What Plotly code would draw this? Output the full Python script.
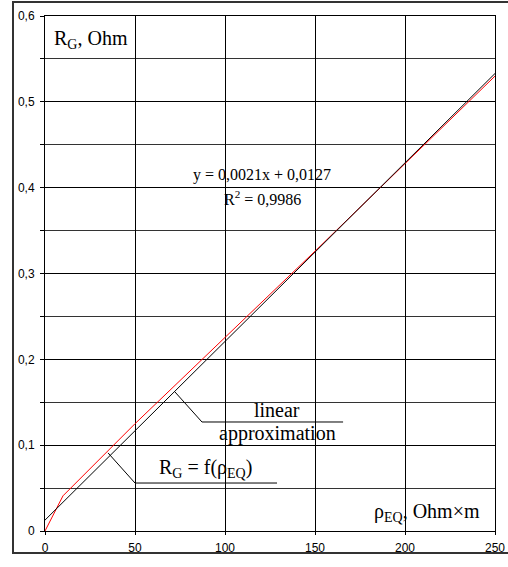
import plotly.graph_objects as go

# data
rho_eq = [0, 10, 50, 100, 150, 200, 250]
r_g = [0, 0.041, 0.125, 0.225, 0.326, 0.428, 0.530]

trend_x = [0, 250]
trend_y = [0.0127, 0.533]

y_tickvals = [0, 0.1, 0.2, 0.3, 0.4, 0.5, 0.6]
y_ticktext = ["0", "0,1", "0,2", "0,3", "0,4", "0,5", "0,6"]
x_tickvals = [0, 50, 100, 150, 200, 250]
x_ticktext = ["0", "50", "100", "150", "200", "250"]

W, H = 508, 567
ML, MR, MT, MB = 45, 13, 16, 36
PW, PH = W - ML - MR, H - MT - MB

def px(x):
    return (x - ML) / PW

def py(y):
    return (H - MB - y) / PH

fig = go.Figure()
fig.add_trace(go.Scatter(x=rho_eq, y=r_g, mode="lines",
                         line=dict(color="#ff0000", width=1), showlegend=False))
fig.add_trace(go.Scatter(x=trend_x, y=trend_y, mode="lines",
                         line=dict(color="black", width=1), showlegend=False))

serif = "Liberation Serif, Times New Roman, serif"
sans = "Liberation Sans, Arial, sans-serif"
tick_font = dict(family=sans, size=12, color="black")

fig.update_layout(
    width=W, height=H,
    margin=dict(l=ML, r=MR, t=MT, b=MB, autoexpand=False),
    plot_bgcolor="white", paper_bgcolor="white",
    font=dict(family=sans, size=12, color="black"),
    xaxis=dict(range=[0, 250], tickvals=x_tickvals, ticktext=x_ticktext,
               tickfont=tick_font, automargin=False, ticklabelstandoff=3,
               showgrid=True, gridcolor="black", gridwidth=1,
               showline=True, linecolor="black", linewidth=1, mirror=True,
               ticks="outside", ticklen=3, tickcolor="black", zeroline=False,
               fixedrange=True),
    yaxis=dict(range=[0, 0.6], tickvals=y_tickvals, ticktext=y_ticktext,
               tickfont=tick_font, automargin=False, ticklabelstandoff=3,
               showgrid=True, gridcolor="black", gridwidth=1,
               showline=True, linecolor="black", linewidth=1, mirror=True,
               ticks="outside", ticklen=4, tickcolor="black", zeroline=False,
               minor=dict(dtick=0.05, ticks="outside", ticklen=4, tickcolor="black",
                          showgrid=True, gridcolor="#333333", gridwidth=1),
               fixedrange=True),
)

# outer chart frame
fig.add_shape(type="rect", xref="paper", yref="paper",
              x0=px(13), x1=px(512), y0=py(553), y1=py(2),
              line=dict(color="#333333", width=2), layer="below")

# leader lines
fig.add_shape(type="path", xref="x", yref="y",
              path="M 72.2,0.162 L 87.2,0.127 L 165.6,0.127",
              line=dict(color="black", width=1))
fig.add_shape(type="path", xref="x", yref="y",
              path="M 35,0.091 L 50,0.0559 L 128.9,0.0559",
              line=dict(color="black", width=1))

ann = [
    dict(x=px(52), y=py(39), text="R<sub>G</sub>, Ohm", xanchor="left", size=20),
    dict(x=px(482), y=py(512), text="ρ<sub>EQ</sub>, Ohm×m", xanchor="right", size=20),
    dict(x=px(262), y=py(175), text="y = 0,0021x + 0,0127", xanchor="center", size=16),
    dict(x=px(262), y=py(198), text="R<sup>2</sup> = 0,9986", xanchor="center", size=16),
    dict(x=px(277), y=py(410), text="linear", xanchor="center", size=20),
    dict(x=px(277), y=py(433), text="approximation", xanchor="center", size=20),
    dict(x=px(205), y=py(468), text="R<sub>G</sub> = f(ρ<sub>EQ</sub>)", xanchor="center", size=20),
]
for a in ann:
    fig.add_annotation(x=a["x"], y=a["y"], xref="paper", yref="paper",
                       text=a["text"], showarrow=False, xanchor=a["xanchor"],
                       yanchor="middle",
                       font=dict(family=serif, size=a["size"], color="black"))

fig.write_html("out.html", config={"displayModeBar": False},
               post_script="document.body.style.margin='0';document.body.style.padding='0';")
